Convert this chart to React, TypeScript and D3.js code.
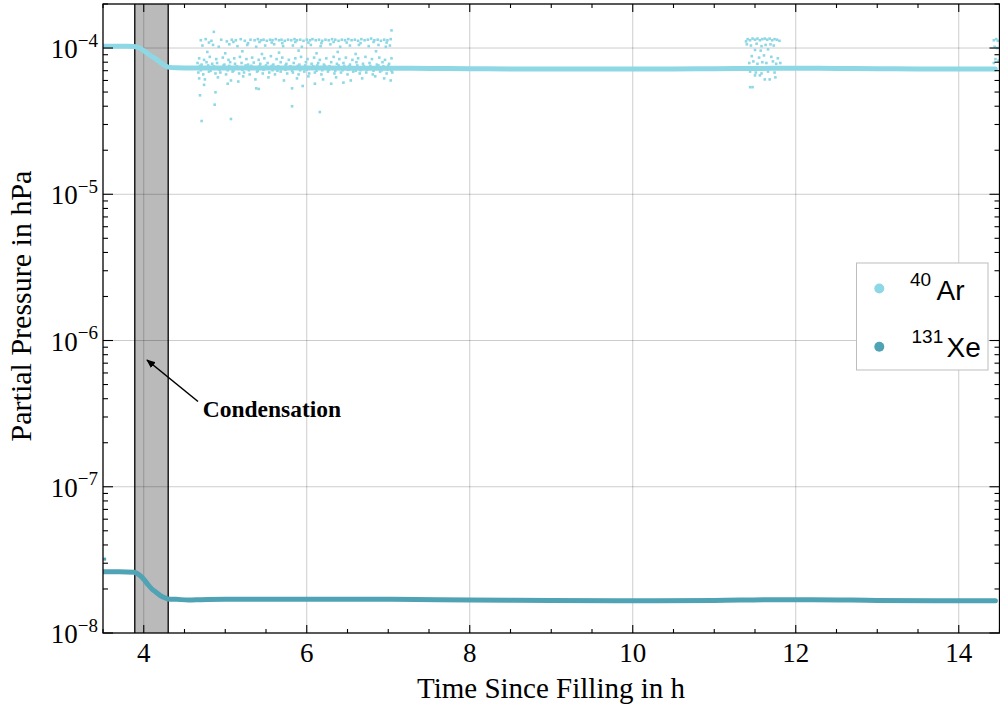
import React from "react";
import * as d3 from "d3";

// ---------- data ----------
// main 40Ar trace: [time h, pressure in 1e-5 hPa]
const arTrace: [number, number][] = [
  [3.5, 10.3], [3.6, 10.3], [3.7, 10.3], [3.8, 10.3], [3.88, 10.25], [3.95, 10.0],
  [4.0, 9.6], [4.05, 9.15], [4.1, 8.75], [4.15, 8.4], [4.2, 8.0], [4.25, 7.65],
  [4.3, 7.4], [4.4, 7.32], [4.6, 7.3], [5.0, 7.3], [5.5, 7.3], [6.0, 7.3],
  [6.5, 7.28], [7.0, 7.28], [7.5, 7.25], [8.0, 7.22], [8.5, 7.2], [9.0, 7.2],
  [9.5, 7.2], [10.0, 7.2], [10.5, 7.2], [11.0, 7.22], [11.5, 7.25], [12.0, 7.28],
  [12.5, 7.25], [13.0, 7.22], [13.5, 7.2], [14.0, 7.2], [14.45, 7.18],
];

// scattered 40Ar readings: [time h, pressure in 1e-5 hPa]
const arScatter1: [number, number][] = [
  [4.70, 11.3], [4.76, 11.5], [4.83, 11.2], [4.95, 11.4], [5.02, 11.1], [5.08, 11.4], [5.13, 11.3], [5.19, 11.5],
  [5.24, 11.2], [5.31, 11.4], [5.36, 11.3], [5.40, 11.5], [5.44, 11.3], [5.47, 11.4], [5.51, 11.2], [5.55, 11.4],
  [5.58, 11.3], [5.62, 11.5], [5.66, 11.3], [5.69, 11.4], [5.73, 11.2], [5.77, 11.4], [5.81, 11.3], [5.85, 11.5],
  [5.88, 11.3], [5.92, 11.4], [5.96, 11.2], [6.00, 11.4], [6.04, 11.3], [6.07, 11.5], [6.11, 11.3], [6.15, 11.4],
  [6.19, 11.2], [6.23, 11.4], [6.27, 11.3], [6.31, 11.5], [6.35, 11.4], [6.39, 11.2], [6.43, 11.4], [6.47, 11.3],
  [6.51, 11.5], [6.55, 11.3], [6.59, 11.4], [6.63, 11.2], [6.67, 11.5], [6.71, 11.3], [6.75, 11.4], [6.79, 11.6],
  [6.83, 11.3], [6.87, 11.4], [6.91, 11.2], [6.95, 11.4], [6.99, 11.3], [7.03, 11.5],
  [4.80, 10.9], [5.10, 11.0], [5.28, 10.8], [5.42, 11.0], [5.57, 10.9], [5.70, 10.8], [5.86, 11.0], [6.02, 10.9],
  [6.18, 10.8], [6.33, 11.0], [6.49, 10.9], [6.66, 10.8], [6.82, 11.0], [6.98, 10.9],
  [4.72, 10.4], [4.85, 10.5], [4.92, 10.2], [5.05, 10.6], [5.15, 10.3], [5.27, 10.5], [5.38, 10.2], [5.49, 10.4],
  [5.60, 10.6], [5.71, 10.3], [5.83, 10.4], [5.94, 10.2], [6.05, 10.5], [6.17, 10.3], [6.29, 10.6], [6.41, 10.2],
  [6.53, 10.4], [6.64, 10.5], [6.76, 10.3], [6.88, 10.5], [6.97, 10.2], [7.02, 10.4],
  [4.78, 9.4], [5.00, 9.2], [5.21, 9.5], [5.45, 9.1], [5.66, 9.3], [5.90, 9.6], [6.12, 9.2], [6.38, 9.4],
  [6.60, 9.1], [6.85, 9.5],
  [4.68, 8.5], [4.74, 8.3], [4.81, 8.7], [4.89, 8.4], [4.97, 8.6], [5.04, 8.3], [5.11, 8.5], [5.18, 8.7],
  [5.26, 8.4], [5.33, 8.6], [5.41, 8.3], [5.48, 8.5], [5.56, 8.8], [5.63, 8.4], [5.70, 8.6], [5.78, 8.3],
  [5.86, 8.5], [5.93, 8.7], [6.01, 8.4], [6.09, 8.6], [6.16, 8.3], [6.24, 8.5], [6.33, 8.7], [6.40, 8.4],
  [6.48, 8.6], [6.56, 8.3], [6.63, 8.5], [6.72, 8.7], [6.80, 8.4], [6.89, 8.6], [6.96, 8.3], [7.04, 8.5],
  [4.66, 7.9], [4.71, 7.7], [4.77, 8.0], [4.84, 7.8], [4.90, 7.9], [4.99, 7.7], [5.06, 8.0], [5.12, 7.8],
  [5.20, 7.9], [5.28, 7.7], [5.35, 7.95], [5.43, 7.8], [5.52, 7.9], [5.59, 7.7], [5.68, 8.0], [5.75, 7.8],
  [5.84, 7.9], [5.91, 7.7], [5.99, 8.0], [6.06, 7.8], [6.14, 7.9], [6.21, 7.7], [6.30, 8.0], [6.37, 7.8],
  [6.45, 7.9], [6.53, 7.7], [6.61, 8.0], [6.69, 7.8], [6.77, 7.9], [6.86, 7.7], [6.93, 8.0], [7.01, 7.8],
  [4.69, 7.55], [4.79, 7.6], [4.86, 7.5], [4.98, 7.6], [5.05, 7.55], [5.14, 7.5], [5.25, 7.6], [5.32, 7.55],
  [5.42, 7.5], [5.50, 7.6], [5.57, 7.55], [5.65, 7.5], [5.74, 7.6], [5.80, 7.5], [5.89, 7.55], [5.98, 7.6],
  [6.08, 7.5], [6.13, 7.6], [6.22, 7.55], [6.28, 7.5], [6.39, 7.6], [6.46, 7.55], [6.52, 7.5], [6.62, 7.6],
  [6.70, 7.5], [6.78, 7.55], [6.88, 7.6], [6.94, 7.5], [7.00, 7.55],
  [4.70, 7.05], [4.82, 7.0], [4.93, 7.1], [5.03, 7.05], [5.10, 7.0], [5.21, 7.1], [5.29, 7.05], [5.40, 7.0],
  [5.47, 7.1], [5.58, 7.05], [5.64, 7.0], [5.74, 7.1], [5.82, 7.0], [5.92, 7.05], [6.00, 7.1], [6.12, 7.0],
  [6.19, 7.05], [6.27, 7.1], [6.35, 7.0], [6.44, 7.05], [6.51, 7.1], [6.60, 7.0], [6.66, 7.05], [6.74, 7.1],
  [6.82, 7.0], [6.92, 7.05], [6.99, 7.1], [7.04, 7.0],
  [4.67, 6.8], [4.73, 6.6], [4.80, 6.9], [4.88, 6.7], [4.94, 6.8], [5.01, 6.6], [5.09, 6.9], [5.17, 6.7],
  [5.23, 6.8], [5.30, 6.6], [5.39, 6.9], [5.46, 6.7], [5.54, 6.8], [5.61, 6.6], [5.68, 6.9], [5.76, 6.7],
  [5.83, 6.8], [5.90, 6.6], [5.97, 6.9], [6.03, 6.7], [6.10, 6.8], [6.18, 6.6], [6.26, 6.9], [6.34, 6.7],
  [6.42, 6.8], [6.50, 6.6], [6.57, 6.9], [6.65, 6.7], [6.73, 6.8], [6.81, 6.6], [6.90, 6.9], [6.98, 6.7], [7.05, 6.8],
  [4.68, 6.2], [4.75, 6.1], [4.91, 6.3], [5.07, 6.0], [5.22, 6.4], [5.37, 6.1], [5.53, 6.3], [5.72, 6.0],
  [5.88, 6.2], [6.02, 6.4], [6.20, 6.1], [6.36, 6.3], [6.54, 6.0], [6.68, 6.2], [6.84, 6.4], [6.95, 6.2], [7.03, 6.0],
  [4.86, 12.9], [7.04, 13.2], [4.71, 3.17], [5.07, 3.27], [5.82, 4.0], [6.16, 3.65], [4.69, 4.75], [4.87, 4.1],
  [4.88, 4.98], [5.38, 5.3], [5.41, 5.25], [5.82, 5.3], [5.03, 5.7], [5.16, 5.9], [6.30, 5.7], [6.10, 5.7],
  [4.74, 5.6], [5.95, 5.5], [6.45, 5.8],
];

const arScatter2: [number, number][] = [
  [11.39, 11.1], [11.41, 11.5], [11.44, 11.3], [11.47, 11.6], [11.50, 11.4], [11.53, 11.6], [11.56, 11.3], [11.59, 11.5],
  [11.62, 11.6], [11.65, 11.4], [11.68, 11.6], [11.71, 11.3], [11.74, 11.5], [11.77, 11.4], [11.80, 11.2],
  [11.40, 10.6], [11.45, 10.4], [11.52, 10.7], [11.58, 10.3], [11.63, 10.5], [11.69, 10.6], [11.73, 10.4],
  [11.50, 9.7], [11.57, 9.6], [11.66, 9.8],
  [11.46, 8.8], [11.55, 8.6], [11.61, 8.9], [11.70, 8.7], [11.78, 8.5],
  [11.43, 7.9], [11.48, 8.1], [11.53, 7.8], [11.59, 8.0], [11.64, 7.9], [11.72, 8.1], [11.76, 7.8], [11.81, 7.9],
  [11.44, 6.9], [11.51, 6.8], [11.58, 6.7], [11.66, 6.9], [11.74, 6.8],
  [11.50, 6.5], [11.56, 6.5], [11.62, 6.1], [11.68, 6.1], [11.75, 6.3],
  [11.44, 5.4], [11.47, 5.4],
];

const arScatter3: [number, number][] = [
  [14.43, 11.3], [14.46, 11.5], [14.48, 11.2], [14.44, 10.2], [14.47, 10.0], [14.45, 8.4], [14.49, 8.2], [14.43, 7.9],
];

// main 131Xe trace: [time h, pressure in 1e-8 hPa]
const xeTrace: [number, number][] = [
  [3.5, 2.62], [3.7, 2.62], [3.88, 2.6], [3.95, 2.48], [4.0, 2.33], [4.05, 2.15], [4.1, 2.0],
  [4.15, 1.9], [4.2, 1.81], [4.25, 1.75], [4.3, 1.71], [4.4, 1.70], [4.55, 1.68], [4.7, 1.69],
  [5.0, 1.70], [6.0, 1.70], [7.0, 1.70], [8.0, 1.68], [9.0, 1.67], [10.0, 1.66], [11.0, 1.67],
  [11.8, 1.69], [12.2, 1.69], [13.0, 1.67], [14.0, 1.66], [14.45, 1.66],
];
const xeScatter: [number, number][] = [[3.52, 3.2]];

const condensationBand: [number, number] = [3.89, 4.3];
const xMajorTicks = [4, 6, 8, 10, 12, 14];
const yDecades = [-8, -7, -6, -5, -4];
const seriesNames = ["Ar", "Xe"];
const seriesMass = ["40", "131"];

// ---------- layout ----------
const W = 1000, H = 711;
const L = 103, R = 999.5, T = 4, B = 633;
const AR_COLOR = "#8ed8e5";
const XE_COLOR = "#4fa3b5";
const SERIF = "'Liberation Serif', 'Times New Roman', serif";
const SANS = "'Liberation Sans', Arial, sans-serif";

export default function App() {
  const x = d3.scaleLinear().domain([3.5, 14.5]).range([L, R]);
  const y = d3.scaleLog().domain([1e-8, 2e-4]).range([B, T]);

  const arLine = d3.line<[number, number]>().x((d) => x(d[0])).y((d) => y(d[1] * 1e-5)).curve(d3.curveMonotoneX);
  const xeLine = d3.line<[number, number]>().x((d) => x(d[0])).y((d) => y(d[1] * 1e-8)).curve(d3.curveMonotoneX);

  const xMinor = d3.range(3.5, 14.51, 0.5).filter((v) => !xMajorTicks.includes(Math.round(v * 10) / 10));
  const yMinor: number[] = [];
  for (let e = -8; e <= -4; e++) for (let m = 2; m <= 9; m++) { const v = m * Math.pow(10, e); if (v <= 2e-4) yMinor.push(v); }

  const allAr = [...arScatter1, ...arScatter2, ...arScatter3];

  // legend
  const lgX = 856.5, lgY = 263, lgW = 131.5, lgH = 107;

  return (
    <svg width={W} height={H} style={{ position: "absolute", left: 0, top: 0, background: "#fff" }}>
      <defs>
        <clipPath id="plot"><rect x={L} y={T} width={R - L} height={B - T} /></clipPath>
        <marker id="arrow" viewBox="0 0 10 10" refX="9" refY="5" markerWidth="9" markerHeight="9" orient="auto" markerUnits="userSpaceOnUse">
          <path d="M0,0.8 L10,5 L0,9.2 Z" fill="#000" />
        </marker>
      </defs>
      <rect x={0} y={0} width={W} height={H} fill="#fff" />
      {/* condensation band */}
      <rect x={x(condensationBand[0])} y={T} width={x(condensationBand[1]) - x(condensationBand[0])} height={B - T} fill="#bababa" />
      {/* grid */}
      <g stroke="#000" strokeOpacity={0.2} strokeWidth={1}>
        {xMajorTicks.map((t) => <line key={"gx" + t} x1={x(t)} x2={x(t)} y1={T} y2={B} />)}
        {yDecades.filter((e) => e > -8).map((e) => <line key={"gy" + e} x1={L} x2={R} y1={y(Math.pow(10, e))} y2={y(Math.pow(10, e))} />)}
      </g>
      <g stroke="#000" strokeWidth={1.3}>
        <line x1={x(condensationBand[0])} x2={x(condensationBand[0])} y1={T} y2={B} />
        <line x1={x(condensationBand[1])} x2={x(condensationBand[1])} y1={T} y2={B} />
      </g>
      {/* data */}
      <g clipPath="url(#plot)">
        <path d={arLine(arTrace) || ""} fill="none" stroke={AR_COLOR} strokeWidth={5} strokeLinecap="round" />
        {allAr.map((d, i) => <rect key={"a" + i} x={x(d[0]) - 1.3} y={y(d[1] * 1e-5) - 1.3} width={2.6} height={2.6} fill={AR_COLOR} />)}
        <path d={xeLine(xeTrace) || ""} fill="none" stroke={XE_COLOR} strokeWidth={5} strokeLinecap="round" />
        {xeScatter.map((d, i) => <rect key={"x" + i} x={x(d[0]) - 1.5} y={y(d[1] * 1e-8) - 1.5} width={3} height={3} fill={XE_COLOR} />)}
      </g>
      {/* frame */}
      <rect x={L} y={T} width={R - L} height={B - T} fill="none" stroke="#000" strokeWidth={1.3} />
      {/* ticks */}
      <g stroke="#000" strokeWidth={1.1}>
        {xMajorTicks.map((t) => (
          <g key={"xt" + t}>
            <line x1={x(t)} x2={x(t)} y1={B} y2={B - 8} />
            <line x1={x(t)} x2={x(t)} y1={T} y2={T + 8} />
          </g>
        ))}
        {xMinor.map((t) => (
          <g key={"xm" + t}>
            <line x1={x(t)} x2={x(t)} y1={B} y2={B - 4} />
            <line x1={x(t)} x2={x(t)} y1={T} y2={T + 4} />
          </g>
        ))}
        {yDecades.map((e) => (
          <g key={"yt" + e}>
            <line x1={L} x2={L + 10} y1={y(Math.pow(10, e))} y2={y(Math.pow(10, e))} />
            <line x1={R} x2={R - 10} y1={y(Math.pow(10, e))} y2={y(Math.pow(10, e))} />
          </g>
        ))}
        {yMinor.map((v, i) => (
          <g key={"ym" + i}>
            <line x1={L} x2={L + 5} y1={y(v)} y2={y(v)} />
            <line x1={R} x2={R - 5} y1={y(v)} y2={y(v)} />
          </g>
        ))}
      </g>
      {/* tick labels */}
      <g fontFamily={SERIF} fill="#000">
        {xMajorTicks.map((t) => (
          <text key={"xl" + t} x={x(t)} y={662} fontSize={27} textAnchor="middle">{t}</text>
        ))}
        {yDecades.map((e) => (
          <text key={"yl" + e} x={98} y={y(Math.pow(10, e)) + 10} fontSize={27} textAnchor="end">
            10<tspan dy={-11.5} fontSize={19}>{"\u2212" + Math.abs(e)}</tspan>
          </text>
        ))}
        <text x={551} y={698} fontSize={29} textAnchor="middle">Time Since Filling in h</text>
        <text transform="translate(31, 306) rotate(-90)" fontSize={30} textAnchor="middle">Partial Pressure in hPa</text>
      </g>
      {/* legend */}
      <rect x={lgX} y={lgY} width={lgW} height={lgH} fill="#fff" stroke="#bdbdbd" strokeWidth={1} />
      <g fontFamily={SANS} fill="#000">
        <circle cx={879.3} cy={288.5} r={5} fill={AR_COLOR} />
        <text x={910} y={285.7} fontSize={19}>{seriesMass[0]}</text>
        <text x={936.5} y={300} fontSize={28}>{seriesNames[0]}</text>
        <circle cx={879.3} cy={346.7} r={5} fill={XE_COLOR} />
        <text x={911.5} y={343.3} fontSize={19}>{seriesMass[1]}</text>
        <text x={946.5} y={357.3} fontSize={28}>{seriesNames[1]}</text>
      </g>
      {/* annotation */}
      <line x1={198} y1={401.5} x2={147} y2={360} stroke="#000" strokeWidth={1.6} markerEnd="url(#arrow)" />
      <text x={202.7} y={416.7} fontFamily={SERIF} fontWeight="bold" fontSize={23.5} fill="#000">Condensation</text>
    </svg>
  );
}
